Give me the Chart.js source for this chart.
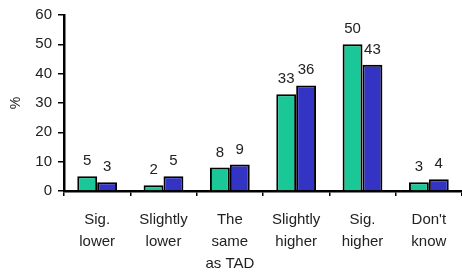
<!DOCTYPE html>
<html><head><meta charset="utf-8">
<script src="https://cdn.jsdelivr.net/npm/chart.js@4"></script>
<style>html,body{margin:0;padding:0;background:#fff}#w{width:462px;height:272px}</style>
</head><body><div id="w"><canvas id="c"></canvas></div>
<script>
const categories = [["Sig.","lower"],["Slightly","lower"],["The","same","as TAD"],["Slightly","higher"],["Sig.","higher"],["Don't","know"]];
const seriesA = [5, 2, 8, 33, 50, 3];
const seriesB = [3, 5, 9, 36, 43, 4];
const yTicks = [0, 10, 20, 30, 40, 50, 60];
const FONT = '"Liberation Sans", Arial, sans-serif';

const labelPlugin = {
  id: 'vals',
  afterDatasetsDraw(chart) {
    const ctx = chart.ctx;
    ctx.save();
    ctx.font = '15px ' + FONT;
    ctx.fillStyle = '#222';
    ctx.textAlign = 'center';
    ctx.textBaseline = 'alphabetic';
    chart.data.datasets.forEach((ds, i) => {
      chart.getDatasetMeta(i).data.forEach((bar, j) => {
        ctx.fillText(String(ds.data[j]), bar.x, bar.y - 11);
      });
    });
    ctx.restore();
  }
};

new Chart(document.getElementById('c'), {
  type: 'bar',
  data: {
    labels: categories,
    datasets: [
      {data: seriesA, backgroundColor: '#19C896', borderColor: '#000', borderWidth: 2, borderSkipped: 'bottom'},
      {data: seriesB, backgroundColor: '#3434C4', borderColor: '#000', borderWidth: 2, borderSkipped: 'bottom'}
    ]
  },
  options: {
    responsive: true, maintainAspectRatio: false, animation: false,
    layout: {padding: {top: 14, right: 0, left: 0, bottom: 0}},
    plugins: {legend: {display: false}, tooltip: {enabled: false}},
    datasets: {bar: {categoryPercentage: 0.6, barPercentage: 1.0}},
    scales: {
      x: {
        grid: {drawOnChartArea: false, drawTicks: true, tickLength: 5, color: '#000', lineWidth: 1.5, offset: true},
        border: {color: '#000', width: 2.5},
        ticks: {color: '#222', font: {size: 15, family: FONT, lineHeight: 1.45}, maxRotation: 0, autoSkip: false, padding: 13},
        afterFit(s) { s.height = 81; }
      },
      y: {
        min: 0, max: 60,
        afterBuildTicks(s) { s.ticks = yTicks.map(v => ({value: v})); },
        grid: {drawOnChartArea: false, drawTicks: true, tickLength: 6, color: '#000', lineWidth: 1.5},
        border: {color: '#000', width: 2.5},
        ticks: {color: '#222', font: {size: 15, family: FONT}, padding: 6},
        title: {display: true, text: '%', color: '#222', font: {size: 14, family: FONT}, padding: {top: 8, bottom: 0}},
        afterFit(s) { s.width = 64; }
      }
    }
  },
  plugins: [labelPlugin]
});
</script></body></html>
